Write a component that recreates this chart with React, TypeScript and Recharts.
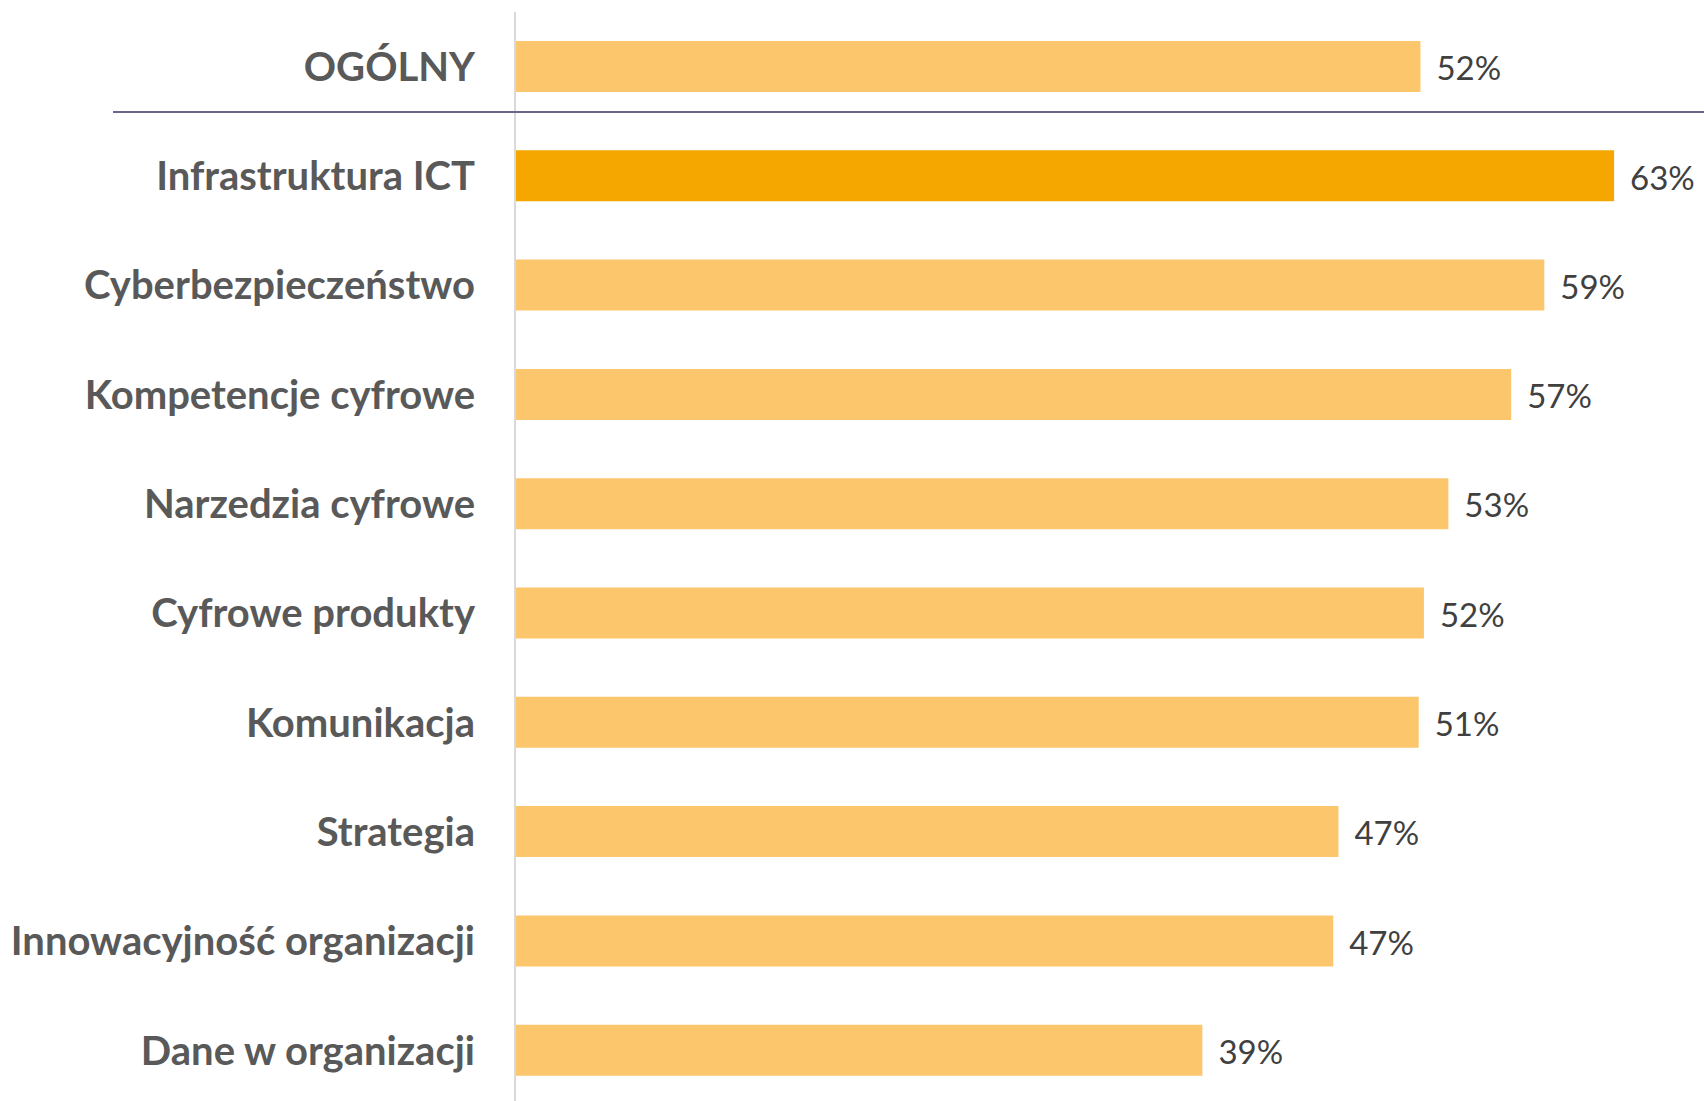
import React from 'react';
import { BarChart, Bar, XAxis, YAxis, Cell, LabelList } from 'recharts';

const categories = [
  'OGÓLNY',
  'Infrastruktura ICT',
  'Cyberbezpieczeństwo',
  'Kompetencje cyfrowe',
  'Narzedzia cyfrowe',
  'Cyfrowe produkty',
  'Komunikacja',
  'Strategia',
  'Innowacyjność organizacji',
  'Dane w organizacji',
];

const values = [51.9, 63.0, 59.0, 57.1, 53.5, 52.1, 51.8, 47.2, 46.9, 39.4];

const valueLabels = ['52%', '63%', '59%', '57%', '53%', '52%', '51%', '47%', '47%', '39%'];

const HIGHLIGHT = 'Infrastruktura ICT';

const COLORS = {
  bar: '#FCC66D',
  highlight: '#F5A700',
  category: '#595959',
  value: '#404040',
  separator: '#6a648a',
  axis: '#d9d9d9',
};

const data = categories.map((name, i) => ({
  name,
  value: values[i],
  label: valueLabels[i],
}));

export default function App() {
  return (
    <div
      style={{
        position: 'absolute',
        left: 0,
        top: 0,
        width: 1704,
        height: 1101,
        overflow: 'hidden',
        background: '#fff',
      }}
    >
      <BarChart
        width={1704}
        height={1105}
        data={data}
        layout="vertical"
        margin={{ top: 12, right: 55, bottom: 0, left: 0 }}
        barSize={51}
      >
        <XAxis type="number" domain={[0, 65]} hide />
        <YAxis
          type="category"
          dataKey="name"
          width={515}
          axisLine={{ stroke: COLORS.axis, strokeWidth: 2 }}
          tickLine={false}
          tickSize={0}
          tickMargin={40}
          interval={0}
          tick={{
            fill: COLORS.category,
            fontSize: 40,
            fontWeight: 700,
            fontFamily: 'Lato',
          }}
        />
        <Bar dataKey="value" isAnimationActive={false}>
          {data.map((d) => (
            <Cell key={d.name} fill={d.name === HIGHLIGHT ? COLORS.highlight : COLORS.bar} />
          ))}
          <LabelList
            dataKey="label"
            position="right"
            offset={16}
            dy={2}
            fill={COLORS.value}
            fontSize={33}
            fontFamily="Lato"
          />
        </Bar>
      </BarChart>
      {/* divider between the overall score and the categories */}
      <div
        style={{
          position: 'absolute',
          left: 113,
          top: 111,
          width: 1591,
          height: 2,
          background: COLORS.separator,
        }}
      />
    </div>
  );
}
